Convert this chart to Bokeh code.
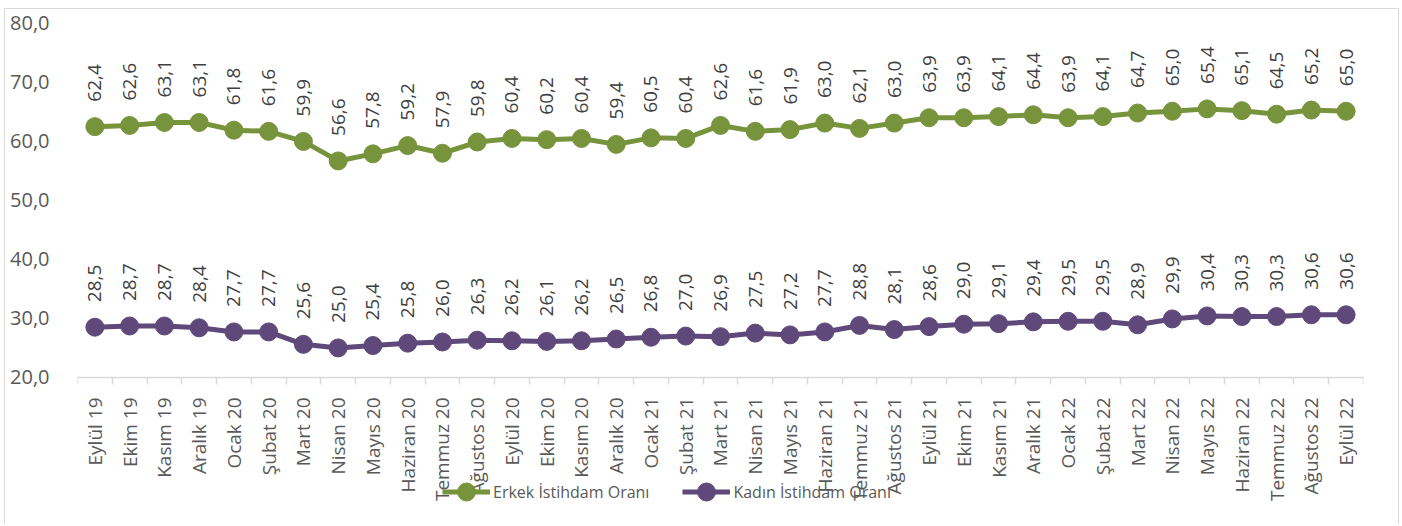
import math
from bokeh.plotting import figure
from bokeh.models import ColumnDataSource, Range1d, FixedTicker, Legend, LegendItem
from bokeh.core.properties import value
from bokeh.embed import file_html
from bokeh.resources import INLINE

months = ["Eylül 19", "Ekim 19", "Kasım 19", "Aralık 19", "Ocak 20", "Şubat 20", "Mart 20",
          "Nisan 20", "Mayıs 20", "Haziran 20", "Temmuz 20", "Ağustos 20", "Eylül 20",
          "Ekim 20", "Kasım 20", "Aralık 20", "Ocak 21", "Şubat 21", "Mart 21", "Nisan 21",
          "Mayıs 21", "Haziran 21", "Temmuz 21", "Ağustos 21", "Eylül 21", "Ekim 21",
          "Kasım 21", "Aralık 21", "Ocak 22", "Şubat 22", "Mart 22", "Nisan 22", "Mayıs 22",
          "Haziran 22", "Temmuz 22", "Ağustos 22", "Eylül 22"]

erkek = [62.4, 62.6, 63.1, 63.1, 61.8, 61.6, 59.9, 56.6, 57.8, 59.2, 57.9, 59.8, 60.4,
         60.2, 60.4, 59.4, 60.5, 60.4, 62.6, 61.6, 61.9, 63.0, 62.1, 63.0, 63.9, 63.9,
         64.1, 64.4, 63.9, 64.1, 64.7, 65.0, 65.4, 65.1, 64.5, 65.2, 65.0]

kadin = [28.5, 28.7, 28.7, 28.4, 27.7, 27.7, 25.6, 25.0, 25.4, 25.8, 26.0, 26.3, 26.2,
         26.1, 26.2, 26.5, 26.8, 27.0, 26.9, 27.5, 27.2, 27.7, 28.8, 28.1, 28.6, 29.0,
         29.1, 29.4, 29.5, 29.5, 28.9, 29.9, 30.4, 30.3, 30.3, 30.6, 30.6]

y_ticks = [20, 30, 40, 50, 60, 70, 80]

series_names = ["Erkek İstihdam Oranı", "Kadın İstihdam Oranı"]

GREEN = "#77933C"
PURPLE = "#5F497A"
FONT = "Open Sans"


def fmt(v):
    return f"{v:.1f}".replace(".", ",")


x = list(range(len(months)))
src = ColumnDataSource(dict(
    x=x, erkek=erkek, kadin=kadin,
    erkek_lbl=[fmt(v) for v in erkek],
    kadin_lbl=[fmt(v) for v in kadin],
))

# frame extends below the value axis so that the legend can sit under the tick labels
p = figure(width=1395, height=516, output_backend="svg", toolbar_location=None,
           x_range=Range1d(-0.5, len(months) - 0.5), y_range=Range1d(-4.68, 80),
           min_border_left=72, min_border_right=37, min_border_top=13,
           min_border_bottom=2,
           styles={"border": "1px solid #d9d9d9", "border-bottom": "none",
                   "margin-left": "4px", "margin-top": "8px"})
p.outline_line_color = None
p.grid.visible = False
p.background_fill_color = "white"
p.border_fill_color = "white"

# lines & markers
l1 = p.line("x", "erkek", source=src, line_color=GREEN, line_width=5)
s1 = p.scatter("x", "erkek", source=src, size=18, fill_color=GREEN, line_color=GREEN)
l2 = p.line("x", "kadin", source=src, line_color=PURPLE, line_width=5)
s2 = p.scatter("x", "kadin", source=src, size=18, fill_color=PURPLE, line_color=PURPLE)

# data labels
for col in ["erkek", "kadin"]:
    p.text(x="x", y=col, text=col + "_lbl", source=src, angle=math.pi / 2,
           text_align="left", text_baseline="middle", y_offset=-25,
           text_font=value(FONT), text_font_size="19px", text_color="#404040")

# x axis (drawn at value 20)
xa = p.xaxis[0]
xa.fixed_location = y_ticks[0]
xa.ticker = FixedTicker(ticks=x, minor_ticks=[i - 0.5 for i in range(len(months) + 1)])
xa.major_label_overrides = {i: m for i, m in enumerate(months)}
xa.major_label_orientation = math.pi / 2
xa.major_tick_out = 0
xa.major_tick_in = 0
xa.minor_tick_out = 7
xa.minor_tick_in = 0
xa.minor_tick_line_color = "#d9d9d9"
xa.minor_tick_line_width = 1.5
xa.axis_line_color = "#d9d9d9"
xa.axis_line_width = 1.5
xa.major_label_standoff = 13
xa.major_label_text_font = FONT
xa.major_label_text_font_size = "19px"
xa.major_label_text_color = "#595959"

# y axis
ya = p.yaxis[0]
ya.ticker = FixedTicker(ticks=y_ticks)
ya.major_label_overrides = {t: fmt(t) for t in y_ticks}
ya.axis_line_color = None
ya.major_tick_line_color = None
ya.minor_tick_line_color = None
ya.major_label_standoff = 22
ya.major_label_text_font = FONT
ya.major_label_text_font_size = "20px"
ya.major_label_text_color = "#595959"

legend = Legend(items=[LegendItem(label=series_names[0], renderers=[l1, s1]),
                       LegendItem(label=series_names[1], renderers=[l2, s2])],
                orientation="horizontal", location=(365, 9),
                glyph_width=48, glyph_height=45, label_standoff=3, spacing=33,
                padding=0, margin=0, border_line_color=None,
                background_fill_alpha=0,
                label_text_font=FONT, label_text_font_size="16px",
                label_text_color="#595959")
p.add_layout(legend)

open("out.html", "w").write(file_html(p, INLINE))
